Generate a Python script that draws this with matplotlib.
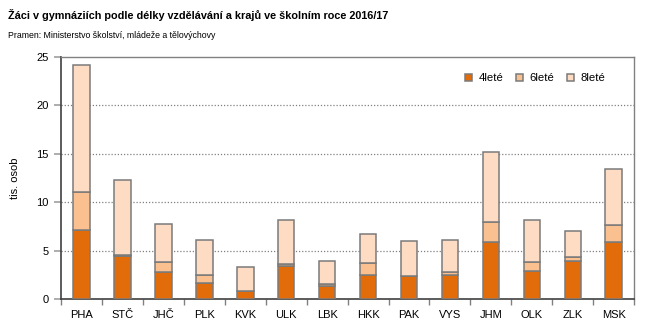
import matplotlib
matplotlib.use("Agg")
import matplotlib.pyplot as plt
import numpy as np

plt.rcParams['font.family'] = ['Liberation Sans', 'DejaVu Sans']

categories = ["PHA", "STČ", "JHČ", "PLK", "KVK", "ULK", "LBK", "HKK", "PAK", "VYS", "JHM", "OLK", "ZLK", "MSK"]
let4 = [7.15, 4.47, 2.78, 1.65, 0.79, 3.44, 1.37, 2.44, 2.34, 2.47, 5.91, 2.85, 3.88, 5.91]
let6 = [3.85, 0.10, 1.07, 0.82, 0.07, 0.16, 0.18, 1.27, 0.03, 0.31, 2.06, 1.00, 0.45, 1.68]
let8 = [13.20, 7.73, 3.88, 3.58, 2.44, 4.50, 2.37, 2.99, 3.58, 3.27, 7.22, 4.25, 2.71, 5.88]
series_names = ["4leté", "6leté", "8leté"]
colors = ["#E36C0A", "#FAC090", "#FDDCC3"]

fig = plt.figure(figsize=(6.51, 3.31), dpi=100)
ax = fig.add_axes([0.094, 0.097, 0.880, 0.731])

x = np.arange(len(categories))
bottom = np.zeros(len(categories))
for vals, name, col in zip([let4, let6, let8], series_names, colors):
    ax.bar(x, vals, width=0.4, bottom=bottom, color=col, edgecolor="#7a7a7a",
           linewidth=1.1, label=name, zorder=3)
    bottom += np.array(vals)

ax.set_xlim(-0.5, len(categories) - 0.5)
ax.set_ylim(0, 25)
ax.set_yticks([0, 5, 10, 15, 20, 25])
ax.set_xticks(x)
ax.set_xticklabels(categories, fontsize=8)
ax.set_xticks(np.arange(-0.5, len(categories), 1.0), minor=True)
ax.tick_params(axis='x', which='major', length=0, pad=8)
ax.tick_params(axis='x', which='minor', length=4, color="#808080", width=1)
ax.tick_params(axis='y', length=5, color="#a0a0a0", width=1.2, labelsize=8, pad=4)

for yv in [5, 10, 15, 20]:
    ax.axhline(yv, color="#808080", linestyle=(0, (1, 1.5)), linewidth=0.9, zorder=1)

for s in ['top', 'right']:
    ax.spines[s].set_color("#808080")
    ax.spines[s].set_linewidth(1.0)
for s in ['left', 'bottom']:
    ax.spines[s].set_color("#404040")
    ax.spines[s].set_linewidth(1.2)

ax.set_ylabel("tis. osob", fontsize=8, labelpad=12)

leg = ax.legend(loc='upper right', ncol=3, frameon=False, fontsize=8.2,
                handlelength=0.6, handleheight=0.6, handletextpad=0.6,
                columnspacing=1.1, bbox_to_anchor=(0.968, 0.975))

fig.text(0.012, 0.9426, "Žáci v gymnáziích podle délky vzdělávání a krajů ve školním roce 2016/17",
         fontsize=7.8, fontweight='bold', va='baseline', ha='left')
fig.text(0.012, 0.886, "Pramen: Ministerstvo školství, mládeže a tělovýchovy",
         fontsize=6.3, va='baseline', ha='left')

fig.savefig("out.png", dpi=100)
